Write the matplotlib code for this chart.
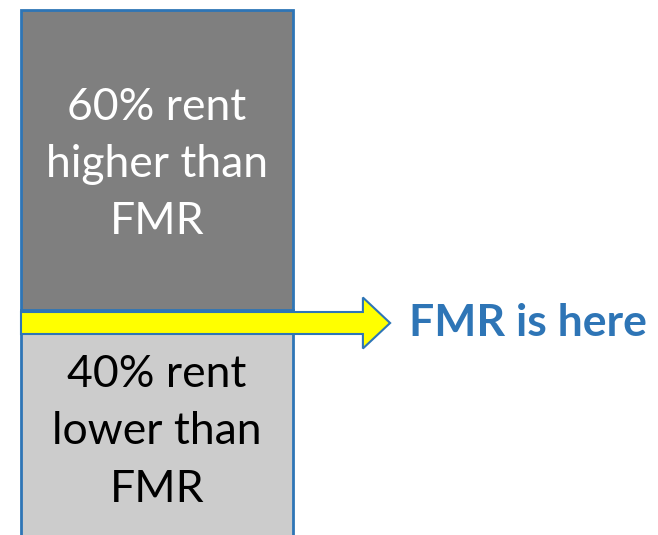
import matplotlib
matplotlib.use("Agg")
import matplotlib.pyplot as plt
from matplotlib.patches import FancyArrow

plt.rcParams['font.family'] = ['Lato', 'DejaVu Sans']

# shares of units, top segment above FMR, bottom below
segments = ["lower", "higher"]
shares = [40, 60]
labels = ["40% rent\nlower than\nFMR", "60% rent\nhigher than\nFMR"]
fills = ["#cccccc", "#7f7f7f"]
text_colors = ["black", "white"]
arrow_label = "FMR is here"

fig = plt.figure(figsize=(6.58, 5.35), dpi=100)
ax = fig.add_axes([0, 0, 1, 1])

y_lo, y_hi = -5, 102
bar_w = 1.0

bottom = 0
for i, seg in enumerate(segments):
    # lower segment runs off the bottom edge like in the slide
    b = bottom if i > 0 else y_lo - 5
    h = shares[i] if i > 0 else shares[i] - b
    ax.bar(0, h, bottom=b, width=bar_w, align='edge', color=fills[i],
           edgecolor='#2e75b6', linewidth=2, zorder=1)
    mid = bottom + shares[i] / 2 - 0.9 if i > 0 else bottom + shares[i] / 2 - 4.4
    ax.text(bar_w / 2, mid, labels[i], ha='center', va='center',
            fontsize=32, color=text_colors[i], linespacing=1.5, zorder=3)
    bottom += shares[i]

fmr = shares[0]
arrow_y = fmr - 2.6
tip_x = 1.357
ax.add_patch(FancyArrow(0, arrow_y, tip_x, 0, width=4.4, head_width=10.2,
                        head_length=0.1, length_includes_head=True,
                        facecolor='#ffff00', edgecolor='#2e75b6',
                        linewidth=1.5, zorder=2))
ax.text(tip_x + 0.07, arrow_y, arrow_label, ha='left', va='center',
        fontsize=32, fontweight='bold', color='#2e75b6')

ax.set_xlim(-21 / 272, (658 - 21) / 272)
ax.set_ylim(y_lo, y_hi)
ax.axis('off')

fig.savefig("out.png", dpi=100)
